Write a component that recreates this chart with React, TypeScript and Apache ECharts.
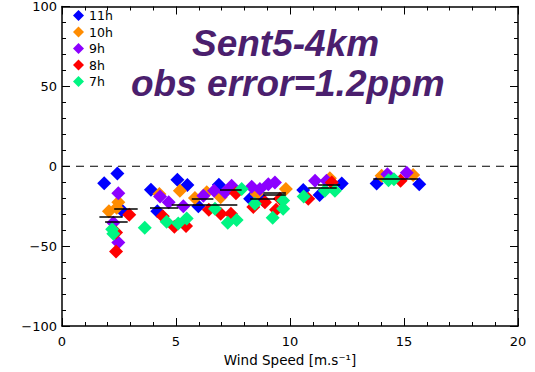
import React, { useEffect, useRef } from "react";
import * as echarts from "echarts";

// Wind speed [m/s], bias [ppm]
const s11h: [number, number][] = [
  [1.85, -10.6], [2.43, -4.6], [2.62, -27.6], [3.9, -14.7], [4.18, -28.2],
  [5.06, -8.5], [5.5, -11.8], [5.98, -25.1], [6.88, -11.6], [8.25, -20.4],
  [8.83, -21.4], [10.58, -14.9], [11.3, -18], [12.27, -10.8], [13.8, -10.8],
  [15.67, -11.2],
];
const s10h: [number, number][] = [
  [2.06, -28.2], [2.47, -22.5], [2.4, -26], [4.27, -17.3], [5.17, -15.3],
  [5.83, -19.8], [6.35, -16.3], [6.96, -19.4], [8.54, -17.3], [9.82, -14.3],
  [11.75, -7.5], [14.02, -6], [15.4, -5.4],
];
const s9h: [number, number][] = [
  [2.47, -16.9], [2.25, -35.4], [2.47, -47.7], [4.3, -19], [4.68, -22.5],
  [5.32, -25.1], [6.2, -18.4], [6.67, -15.3], [7.15, -16.3], [7.44, -12.2],
  [8.32, -12.8], [8.68, -14.3], [9.05, -11.2], [9.34, -10.2], [11.1, -9.1],
  [11.6, -9.1], [14.27, -5], [15.12, -4],
];
const s8h: [number, number][] = [
  [2.37, -53.4], [2.37, -41.5], [2.95, -30.3], [4.42, -31.3], [4.93, -37.8],
  [5.44, -37.4], [6.44, -27.2], [6.96, -29.7], [7.41, -29.7], [7.63, -16.9],
  [8.39, -25.5], [8.9, -22.5], [9.39, -27.2], [9.56, -20.4], [10.8, -20.4],
  [11.83, -10.2], [14.85, -9.1],
];
const s7h: [number, number][] = [
  [2.2, -39.5], [2.25, -42.3], [3.63, -38.5], [4.59, -34.8], [5.1, -35.8],
  [5.47, -32.7], [6.71, -26.6], [7.27, -35.4], [7.66, -33.7], [7.88, -14.3],
  [8.46, -23.5], [9.24, -32.3], [9.7, -21.4], [9.7, -26.6], [10.6, -19],
  [11.53, -15.3], [11.97, -15.3], [14.32, -8.7], [14.56, -8.1],
];
// mean segments: [x start, x end, y]
const meanSegments: [number, number, number][] = [
  [1.64, 2.66, -31.7], [1.89, 2.88, -34.8], [2.29, 3.32, -26.6],
  [3.86, 5.1, -26.2], [4.81, 6.2, -23.9], [5.69, 6.64, -20.4],
  [6.93, 7.88, -14.7], [6.2, 7.69, -24.3], [8.83, 9.82, -16.7],
  [8.83, 9.82, -17.7], [8.25, 9.34, -20.4], [10.8, 12.05, -13.2],
  [11.23, 12.2, -11.6], [13.65, 15.63, -8.1],
];
const seriesNames = ["11h", "10h", "9h", "8h", "7h"];
const seriesColors = ["#0000ff", "#ff8c00", "#8c00ff", "#ff0000", "#00f582"];
const seriesData = [s11h, s10h, s9h, s8h, s7h];
const titleLines = ["Sent5-4km", "obs error=1.2ppm"];
const xAxisName = "Wind Speed [m.s\u207B\u00B9]";

const FONT = "DejaVu Sans";

export default function App() {
  const ref = useRef<HTMLDivElement>(null);
  useEffect(() => {
    if (!ref.current) return;
    const chart = echarts.init(ref.current, undefined, { renderer: "svg" });
    const axisCommon = {
      axisLine: { onZero: false, lineStyle: { color: "#000", width: 1.5 } },
      axisTick: { inside: true, length: 8, lineStyle: { color: "#000", width: 1 } },
      minorTick: { show: true, splitNumber: 5, length: 4, lineStyle: { color: "#000", width: 1 } },
      splitLine: { show: false },
      minorSplitLine: { show: false },
    };
    const option: any = {
      animation: false,
      grid: { left: 62, right: 17, top: 6, bottom: 41 },
      legend: {
        data: seriesNames,
        orient: "vertical",
        left: 73,
        top: 9,
        padding: 0,
        itemGap: 3.5,
        itemWidth: 11,
        itemHeight: 11,
        icon: "diamond",
        textStyle: { fontFamily: FONT, fontSize: 12.5, color: "#000" },
      },
      xAxis: [
        {
          type: "value", min: 0, max: 20, interval: 5, position: "bottom",
          name: xAxisName, nameLocation: "middle", nameGap: 27,
          nameTextStyle: { fontFamily: FONT, fontSize: 13.5, color: "#000" },
          axisLabel: { margin: 9, fontFamily: FONT, fontSize: 13, color: "#000" },
          ...axisCommon,
        },
        {
          type: "value", min: 0, max: 20, interval: 5, position: "top",
          axisLabel: { show: false },
          ...axisCommon,
        },
      ],
      yAxis: [
        {
          type: "value", min: -100, max: 100, interval: 50, position: "left",
          axisLabel: {
            margin: 5, fontFamily: FONT, fontSize: 13, color: "#000",
            formatter: (v: number) => String(v).replace("-", "\u2212"),
          },
          ...axisCommon,
        },
        {
          type: "value", min: -100, max: 100, interval: 50, position: "right",
          axisLabel: { show: false },
          ...axisCommon,
        },
      ],
      graphic: [
        {
          type: "text", x: 192, y: 43, z: 10,
          style: {
            text: titleLines[0], fill: "#4b1f6e",
            font: 'italic bold 37px "Liberation Sans"', verticalAlign: "middle", align: "left",
          },
        },
        {
          type: "text", x: 131, y: 83, z: 10,
          style: {
            text: titleLines[1], fill: "#4b1f6e",
            font: 'italic bold 37px "Liberation Sans"', verticalAlign: "middle", align: "left",
          },
        },
      ],
      series: [
        {
          type: "line", name: "zero", data: [[0, 0], [20, 0]], symbol: "none", silent: true,
          lineStyle: { color: "#000", width: 1, type: [8, 6] }, z: 1,
        },
        ...seriesNames.map((n, i) => ({
          type: "scatter", name: n, data: seriesData[i], symbol: "diamond", symbolSize: 14,
          itemStyle: { color: seriesColors[i], opacity: 1 }, z: 2 + i,
        })),
        {
          type: "lines", coordinateSystem: "cartesian2d", name: "mean", silent: true, z: 10,
          data: meanSegments.map(([x1, x2, y]) => ({ coords: [[x1, y], [x2, y]] })),
          lineStyle: { color: "#000", width: 1.5, opacity: 1 },
        },
      ],
    };
    chart.setOption(option);
    return () => chart.dispose();
  }, []);
  return (
    <div
      ref={ref}
      style={{ position: "fixed", left: 0, top: 0, width: 535, height: 372, background: "#fff" }}
    />
  );
}
